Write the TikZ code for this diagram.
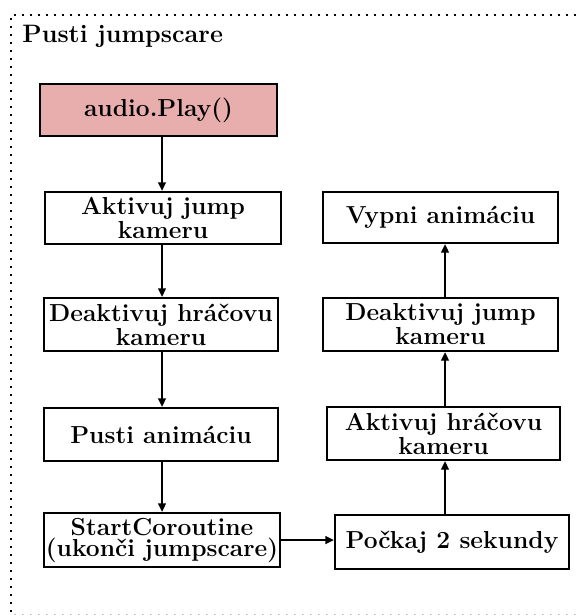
\documentclass[tikz,border=0pt]{standalone}
\usetikzlibrary{arrows.meta}
\definecolor{pinkfill}{RGB}{232,174,174}
\tikzset{
  box/.style={draw, line width=1.2pt, align=center, inner sep=1pt,
    font=\bfseries\fontsize{12.3pt}{10.5pt}\selectfont},
  conn/.style={line width=0.6pt, -{Triangle[length=4.2pt,width=4pt]}},
}
\begin{document}
\begin{tikzpicture}[x=0.5pt,y=-0.5pt]
\useasboundingbox (0,0) rectangle (576,615);
% frame
\draw[line width=1pt, dash pattern=on 1pt off 3pt] (576,15) -- (11,15) -- (11,614);
\draw[gray!45, line width=0.6pt, dash pattern=on 1.2pt off 2.8pt] (14,614.5) -- (576,614.5);
\node[anchor=base west, inner sep=0pt, font=\bfseries\fontsize{12.6pt}{14pt}\selectfont] (title) at (22,43) {Pusti jumpscare};
% left column
\node[box, fill=pinkfill, minimum width=118.5pt, minimum height=26pt] (audio) at (158.5,110) {audio.Play()};
\node[box, minimum width=118pt, minimum height=26pt] (akt1) at (163,218) {Aktivuj jump\\kameru};
\node[box, minimum width=117pt, minimum height=26.5pt] (deak1) at (161,324.5) {Deaktivuj hráčovu\\kameru};
\node[box, minimum width=117pt, minimum height=26.5pt] (pusti) at (161,434.5) {Pusti animáciu};
\node[box, minimum width=118pt, minimum height=27pt] (start) at (162,540) {StartCoroutine\\(ukonči jumpscare)};
% right column
\node[box, minimum width=117pt, minimum height=27pt] (pock) at (452,542) {Počkaj 2 sekundy};
\node[box, minimum width=116.5pt, minimum height=26.5pt] (akt2) at (443.5,433.5) {Aktivuj hráčovu\\kameru};
\node[box, minimum width=117.5pt, minimum height=26.5pt] (deak2) at (440.5,324.5) {Deaktivuj jump\\kameru};
\node[box, minimum width=117.5pt, minimum height=25.5pt] (vypni) at (440.5,217.5) {Vypni animáciu};
% guide coordinates for connector x positions
\coordinate (xl) at (162,0);
\coordinate (xr) at (445,0);
% connectors
\draw[conn] (audio.south -| xl) -- (akt1.north -| xl);
\draw[conn] (akt1.south -| xl) -- (deak1.north -| xl);
\draw[conn] (deak1.south -| xl) -- (pusti.north -| xl);
\draw[conn] (pusti.south -| xl) -- (start.north -| xl);
\draw[conn] (start.east) -- (pock.west |- start.east);
\draw[conn] (pock.north -| xr) -- (akt2.south -| xr);
\draw[conn] (akt2.north -| xr) -- (deak2.south -| xr);
\draw[conn] (deak2.north -| xr) -- (vypni.south -| xr);
\end{tikzpicture}
\end{document}
